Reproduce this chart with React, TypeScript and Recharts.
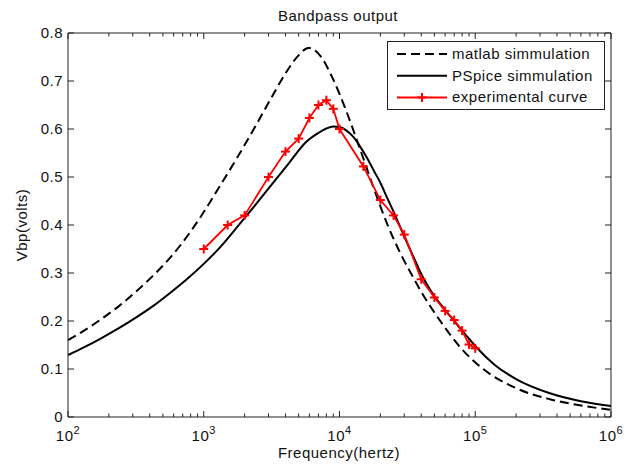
import { LineChart, Line, XAxis, YAxis, Legend, Customized } from 'recharts';

// matlab simulation (dashed)
const matlabFreq = [100, 133, 178, 237, 316, 422, 562, 794, 1000, 1333, 1778, 2371, 3162, 3981, 5012, 5900, 7100, 8900, 11200, 14100, 17800, 22400, 28200, 33500, 39800, 47300, 56200, 66800, 79400, 112000, 200000, 355000, 630000, 1000000];
const matlabVolts = [0.16, 0.181, 0.205, 0.231, 0.261, 0.294, 0.331, 0.385, 0.427, 0.484, 0.542, 0.603, 0.666, 0.715, 0.754, 0.769, 0.755, 0.706, 0.638, 0.56, 0.478, 0.403, 0.34, 0.3, 0.262, 0.228, 0.197, 0.168, 0.142, 0.102, 0.06, 0.037, 0.023, 0.015];

// PSpice simulation (solid)
const pspiceFreq = [100, 133, 178, 237, 316, 422, 562, 750, 1000, 1333, 1778, 2371, 3162, 4217, 5623, 7000, 8000, 9000, 10000, 11200, 12500, 14000, 16000, 18000, 20000, 22500, 25000, 30000, 35000, 40000, 45000, 50000, 60000, 70000, 80000, 90000, 100000, 140000, 200000, 350000, 600000, 1000000];
const pspiceVolts = [0.129, 0.146, 0.165, 0.185, 0.207, 0.231, 0.258, 0.287, 0.319, 0.355, 0.397, 0.44, 0.484, 0.528, 0.572, 0.592, 0.601, 0.605, 0.604, 0.597, 0.585, 0.566, 0.539, 0.512, 0.488, 0.456, 0.428, 0.376, 0.334, 0.298, 0.272, 0.252, 0.223, 0.2, 0.18, 0.163, 0.148, 0.108, 0.079, 0.05, 0.033, 0.023];

// measured points
const expFreq = [1000, 1500, 2000, 3000, 4000, 5000, 6000, 7000, 8000, 9000, 10000, 15000, 20000, 25000, 30000, 40000, 50000, 60000, 70000, 80000, 90000, 100000];
const expVolts = [0.35, 0.4, 0.42, 0.5, 0.553, 0.58, 0.623, 0.65, 0.66, 0.642, 0.6, 0.522, 0.452, 0.42, 0.38, 0.287, 0.249, 0.221, 0.202, 0.18, 0.151, 0.143];

const xMajorTicks = [100, 1000, 10000, 100000, 1000000];
const xMajorExponents = ['2', '3', '4', '5', '6'];
const yTicks = [0, 0.1, 0.2, 0.3, 0.4, 0.5, 0.6, 0.7, 0.8];
const yTickLabels = ['0', '0.1', '0.2', '0.3', '0.4', '0.5', '0.6', '0.7', '0.8'];
const seriesNames = ['matlab simmulation', 'PSpice simmulation', 'experimental curve'];

const minorSteps = [2, 3, 4, 5, 6, 7, 8, 9];
const xTicks = [
  ...xMajorTicks,
  ...xMajorTicks.slice(0, -1).flatMap((d) => minorSteps.map((m) => d * m)),
].sort((a, b) => a - b);

const toPoints = (fs: number[], vs: number[]) => fs.map((f, i) => ({ f, v: vs[i] }));
const matlabData = toPoints(matlabFreq, matlabVolts);
const pspiceData = toPoints(pspiceFreq, pspiceVolts);
const expData = toPoints(expFreq, expVolts);

const FONT = '"Liberation Sans", Arial, sans-serif';
const AXIS = '#222';
const RED = '#ff0000';
const DASH = '9 5';

const PlusDot = (props: any) => {
  const { cx, cy, index } = props;
  if (cx == null || cy == null) return null;
  return (
    <g key={index}>
      <line x1={cx - 4.5} x2={cx + 4.5} y1={cy} y2={cy} stroke={RED} strokeWidth={2} />
      <line x1={cx} x2={cx} y1={cy - 4.5} y2={cy + 4.5} stroke={RED} strokeWidth={2} />
    </g>
  );
};

const BottomTick = (props: any) => {
  const { x, y, payload } = props;
  const i = xMajorTicks.indexOf(payload.value);
  const len = i >= 0 ? 6 : 3.5;
  return (
    <g>
      <line x1={x} x2={x} y1={y} y2={y - len} stroke={AXIS} />
      {i >= 0 && (
        <text x={x} y={y + 24} textAnchor="middle" fontFamily={FONT} fontSize={15} letterSpacing={0.5} fill="#111">
          <tspan>10</tspan>
          <tspan dy={-7} fontSize={11}>{xMajorExponents[i]}</tspan>
        </text>
      )}
    </g>
  );
};

const TopTick = (props: any) => {
  const { x, y, payload } = props;
  const len = xMajorTicks.includes(payload.value) ? 6 : 3.5;
  return <line x1={x} x2={x} y1={y} y2={y + len} stroke={AXIS} />;
};

const LeftTick = (props: any) => {
  const { x, y, payload } = props;
  const i = yTicks.indexOf(payload.value);
  return (
    <g>
      <line x1={x} x2={x + 6} y1={y} y2={y} stroke={AXIS} />
      <text x={x - 5} y={y + 5} textAnchor="end" fontFamily={FONT} fontSize={15} letterSpacing={0.5} fill="#111">
        {yTickLabels[i]}
      </text>
    </g>
  );
};

const RightTick = (props: any) => {
  const { x, y } = props;
  return <line x1={x} x2={x - 6} y1={y} y2={y} stroke={AXIS} />;
};

const LegendBox = () => (
  <svg width={219} height={70} style={{ display: 'block' }}>
    <rect x={0.5} y={0.5} width={217} height={68} fill="#fff" stroke={AXIS} />
    {seriesNames.map((name, i) => {
      const y = 13 + i * 21.7;
      return (
        <g key={name}>
          <line
            x1={10}
            x2={60}
            y1={y}
            y2={y}
            stroke={i === 2 ? RED : '#000'}
            strokeWidth={2}
            strokeDasharray={i === 0 ? DASH : undefined}
          />
          {i === 2 && <PlusDot cx={35} cy={y} />}
          <text x={65} y={y + 5} fontFamily={FONT} fontSize={15} letterSpacing={0.5} fill="#111">
            {name}
          </text>
        </g>
      );
    })}
  </svg>
);

const Titles = () => (
  <g fontFamily={FONT} fill="#111" letterSpacing={0.5}>
    <text x={338} y={21} textAnchor="middle" fontSize={15}>Bandpass output</text>
    <text x={339} y={458} textAnchor="middle" fontSize={15}>Frequency(hertz)</text>
    <text x={0} y={0} textAnchor="middle" fontSize={15} transform="translate(27 225) rotate(-90)">Vbp(volts)</text>
  </g>
);

export default function App() {
  return (
    <div style={{ position: 'absolute', left: 0, top: 0, background: '#fff' }}>
      <LineChart width={633} height={466} margin={{ top: 32, right: 21, left: 28, bottom: 19 }}>
        <XAxis
          dataKey="f"
          type="number"
          scale="log"
          domain={[100, 1000000]}
          allowDataOverflow
          ticks={xTicks}
          interval={0}
          tick={BottomTick}
          tickSize={0}
          tickMargin={0}
          tickLine={false}
          axisLine={{ stroke: AXIS }}
          height={30}
        />
        <XAxis
          xAxisId="top"
          orientation="top"
          dataKey="f"
          type="number"
          scale="log"
          domain={[100, 1000000]}
          allowDataOverflow
          ticks={xTicks}
          interval={0}
          tick={TopTick}
          tickSize={0}
          tickMargin={0}
          tickLine={false}
          axisLine={{ stroke: AXIS }}
          height={1}
        />
        <YAxis
          type="number"
          domain={[0, 0.8]}
          allowDataOverflow
          ticks={yTicks}
          interval={0}
          tick={LeftTick}
          tickSize={0}
          tickMargin={0}
          tickLine={false}
          axisLine={{ stroke: AXIS }}
          width={40}
        />
        <YAxis
          yAxisId="right"
          orientation="right"
          type="number"
          domain={[0, 0.8]}
          allowDataOverflow
          ticks={yTicks}
          interval={0}
          tick={RightTick}
          tickSize={0}
          tickMargin={0}
          tickLine={false}
          axisLine={{ stroke: AXIS }}
          width={1}
        />
        <Legend
          layout="vertical"
          align="center"
          verticalAlign="middle"
          content={LegendBox}
          wrapperStyle={{ position: 'absolute', left: 387, top: 41, width: 219, height: 70 }}
        />
        <Line
          data={matlabData}
          dataKey="v"
          name={seriesNames[0]}
          type="monotone"
          stroke="#000"
          strokeWidth={2}
          strokeDasharray={DASH}
          dot={false}
          activeDot={false}
          isAnimationActive={false}
        />
        <Line
          data={pspiceData}
          dataKey="v"
          name={seriesNames[1]}
          type="monotone"
          stroke="#000"
          strokeWidth={2}
          dot={false}
          activeDot={false}
          isAnimationActive={false}
        />
        <Line
          data={expData}
          dataKey="v"
          name={seriesNames[2]}
          type="linear"
          stroke={RED}
          strokeWidth={1.8}
          dot={PlusDot}
          activeDot={false}
          isAnimationActive={false}
        />
        <Customized component={Titles} />
      </LineChart>
    </div>
  );
}
